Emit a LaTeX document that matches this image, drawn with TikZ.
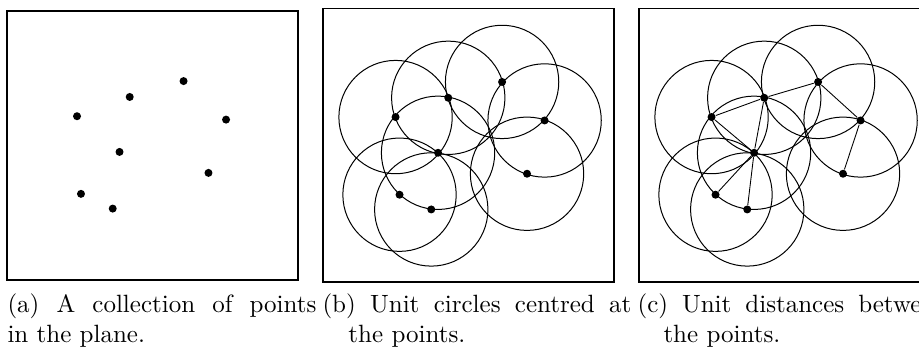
\documentclass[tikz,border=0pt]{standalone}
\usepackage{tikz}
\newcommand{\capwidth}{123.6pt}
\newcommand{\capline}[1]{{\spaceskip=0pt\xspaceskip=0pt\makebox[\capwidth][s]{#1}}}

\begin{document}
\begin{tikzpicture}[x=0.797cm,y=0.797cm,
    dot/.style={circle,fill=black,inner sep=0pt,minimum size=3.2pt},
    panel/.style={draw,line width=0.5pt},
    unitcircle/.style={line width=0.4pt},
    unitedge/.style={line width=0.35pt},
    subcap/.style={anchor=base west,inner sep=0pt,text width=\capwidth,align=left}]
  \useasboundingbox (0,0) rectangle (16.217,6.247);

  % (a) the points
  \draw[panel] (0.124,1.306) rectangle (5.259,6.053);
  \begin{scope}[shift={(0.079,1.286)}]
    \foreach \i/\x/\y in {1/1.28/2.91,2/2.21/3.25,3/3.16/3.53,4/3.91/2.85,
                          5/2.03/2.28,6/3.60/1.91,7/1.35/1.54,8/1.91/1.28}
      \node[dot] (a\i) at (\x,\y) {};
  \end{scope}
  \node[subcap] (capa) at (0.124,0.735)
    {\capline{(a) A collection of points}\\in the plane.};

  % (b) unit circles
  \begin{scope}[shift={(5.700,1.271)}]
    \draw[panel] (0,0) rectangle (5.135,4.826);
    \foreach \i/\x/\y in {1/1.28/2.91,2/2.21/3.25,3/3.16/3.53,4/3.91/2.85,
                          5/2.03/2.28,6/3.60/1.91,7/1.35/1.54,8/1.91/1.28}
      \node[dot] (b\i) at (\x,\y) {};
    \foreach \i in {1,...,8}
      \draw[unitcircle] (b\i.center) circle (1);
  \end{scope}
  \node[subcap] (capb) at (5.682,0.735)
    {\capline{(b) Unit circles centred at}\\\hspace*{10.4pt}the points.};

  % (c) unit distances
  \begin{scope}[shift={(11.276,1.271)}]
    \draw[panel] (0,0) rectangle (5.135,4.826);
    \foreach \i/\x/\y in {1/1.28/2.91,2/2.21/3.25,3/3.16/3.53,4/3.91/2.85,
                          5/2.03/2.28,6/3.60/1.91,7/1.35/1.54,8/1.91/1.28}
      \node[dot] (c\i) at (\x,\y) {};
    \foreach \i in {1,...,8}
      \draw[unitcircle] (c\i.center) circle (1);
    \foreach \s/\t in {1/2,2/3,3/4,4/6,1/5,2/5,5/7,5/8}
      \draw[unitedge] (c\s) -- (c\t);
  \end{scope}
  \node[subcap] (capc) at (11.241,0.735)
    {\capline{(c) Unit distances between}\\\hspace*{10.4pt}the points.};
\end{tikzpicture}
\end{document}
